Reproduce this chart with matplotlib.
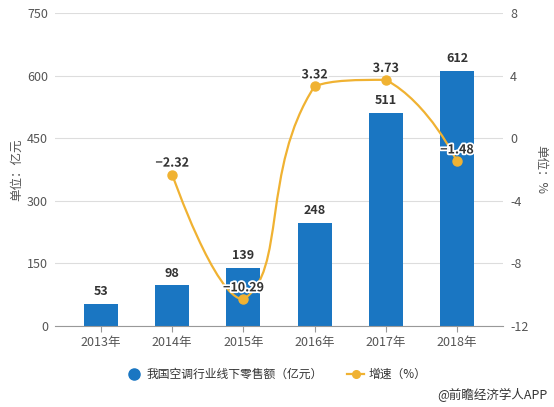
import matplotlib
matplotlib.use("Agg")
import matplotlib.pyplot as plt
from matplotlib.path import Path
from matplotlib.patches import PathPatch
import matplotlib.patheffects as pe
import numpy as np

plt.rcParams['font.family'] = ['Noto Sans CJK SC', 'DejaVu Sans']

years = ["2013年", "2014年", "2015年", "2016年", "2017年", "2018年"]
sales = [53, 98, 139, 248, 511, 612]
growth_idx = [1, 2, 3, 4, 5]
growth = [-2.32, -10.29, 3.32, 3.73, -1.48]
growth_labels = ["\u22122.32", "\u221210.29", "3.32", "3.73", "\u22121.48"]

bar_color = "#1a76c2"
line_color = "#f0b232"
tick_color = "#555555"

fig = plt.figure(figsize=(5.54, 4.07), dpi=100)
ax = fig.add_axes([55/554, 1-326/407, 448/554, (326-13)/407])
ax2 = ax.twinx()

x = list(range(len(years)))
ax.bar(x, sales, width=0.48, color=bar_color, zorder=2)
for xi, v in zip(x, sales):
    ax.annotate(str(v), (xi, v), xytext=(0, 4), textcoords='offset points',
                ha='center', va='bottom', fontsize=9, fontweight='bold',
                color='#333333', zorder=5)

ax.set_xlim(-0.646, 5.646)
ax.set_ylim(0, 750)
ax.set_yticks([0, 150, 300, 450, 600, 750])
ax.set_xticks(x)
ax.set_xticklabels(years)
ax.grid(axis='y', color='#dddddd', linewidth=0.8, zorder=0)
ax.set_axisbelow(True)
for s in ['top', 'right', 'left']:
    ax.spines[s].set_visible(False)
ax.spines['bottom'].set_color('#999999')
ax.tick_params(axis='y', length=0, colors=tick_color, labelsize=9, pad=5)
ax.tick_params(axis='x', length=4, color='#999999', colors=tick_color, labelsize=9)
ax.set_ylabel("单位：亿元", color=tick_color, fontsize=9, labelpad=3)

ax2.set_ylim(-12, 8)
ax2.set_yticks([-12, -8, -4, 0, 4, 8])
ax2.set_yticklabels(["-12", "-8", "-4", "0", "4", "8"])
for s in ax2.spines.values():
    s.set_visible(False)
ax2.tick_params(axis='y', length=0, colors=tick_color, labelsize=9, pad=5)
ax2.set_ylabel("单位：%", color=tick_color, fontsize=9, rotation=270, labelpad=14)

# ECharts-style smooth curve with bounding-box constraint, computed in display space
P = ax2.transData.transform(np.column_stack([growth_idx, growth]).astype(float))
lo, hi = P.min(axis=0), P.max(axis=0)
smooth = 0.5
n = len(P)
cps = []
for i in range(n):
    if i == 0 or i == n - 1:
        cps.append(P[i].copy())
        continue
    prev, nxt = P[i - 1], P[i + 1]
    v = (nxt - prev) * smooth
    d0 = np.linalg.norm(P[i] - prev)
    d1 = np.linalg.norm(P[i] - nxt)
    s = d0 + d1
    d0, d1 = d0 / s, d1 / s
    c0 = np.clip(P[i] - v * d0, lo, hi)
    c1 = np.clip(P[i] + v * d1, lo, hi)
    cps.append(c0)
    cps.append(c1)
verts = [P[0]]
codes = [Path.MOVETO]
for i in range(n - 1):
    verts += [cps[2 * i], cps[2 * i + 1], P[i + 1]]
    codes += [Path.CURVE4] * 3
inv = ax2.transData.inverted()
verts = inv.transform(np.array(verts))
patch = PathPatch(Path(verts, codes), facecolor='none', edgecolor=line_color,
                  linewidth=1.6, zorder=3)
ax2.add_patch(patch)
ax2.plot(growth_idx, growth, 'o', color=line_color, markersize=6.5, zorder=4)
for xi, v, lab in zip(growth_idx, growth, growth_labels):
    ax2.annotate(lab, (xi, v), xytext=(0, 3.5), textcoords='offset points',
                 ha='center', va='bottom', fontsize=9, fontweight='bold',
                 color='#333333', zorder=6,
                 path_effects=[pe.withStroke(linewidth=2.5, foreground='white')])

# legend
ly = 1 - 374/407
fig.lines.append(plt.Line2D([134/554], [ly], marker='o', color=bar_color,
                            markersize=8, transform=fig.transFigure, linestyle='none'))
fig.text(147/554, ly, "我国空调行业线下零售额（亿元）", fontsize=8.5, color='#333333',
         va='center', ha='left')
fig.lines.append(plt.Line2D([347/554, 364/554], [ly, ly], color=line_color,
                            linewidth=1.6, transform=fig.transFigure))
fig.lines.append(plt.Line2D([355.5/554], [ly], marker='o', color=line_color,
                            markersize=5.5, transform=fig.transFigure, linestyle='none'))
fig.text(369/554, ly, "增速（%）", fontsize=8.5, color='#333333', va='center', ha='left')

fig.text(547/554, 1 - 395/407, "@前瞻经济学人APP", fontsize=9, color='#333333',
         va='center', ha='right')

fig.savefig("out.png", dpi=100)
